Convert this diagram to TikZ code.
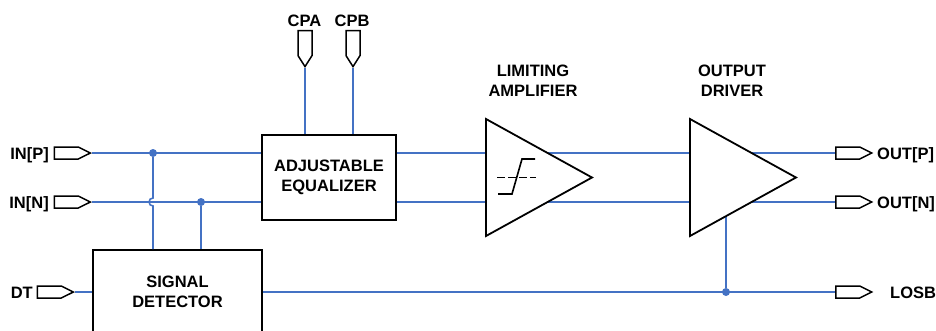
\documentclass[tikz,border=0pt]{standalone}
\usepackage{fontspec}
\setmainfont{Liberation Sans}
\usetikzlibrary{shapes.symbols}
\definecolor{wireblue}{RGB}{68,114,196}
\tikzset{
  block/.style={draw=black,line width=1.8pt,fill=white,align=center,inner sep=0pt},
  port/.style={signal,draw=black,line width=1.5pt,fill=white,inner sep=0pt,minimum width=36pt,minimum height=12pt,signal to=east,signal pointer angle=53},
  vport/.style={port,signal to=south,minimum width=14pt,minimum height=25pt,signal pointer angle=65},
  wire/.style={draw=wireblue,line width=1.6pt},
  joint/.style={circle,fill=wireblue,inner sep=0pt,minimum size=8pt},
  amp/.style={draw=black,line width=1.8pt,fill=white,line join=miter},
  lbl/.style={inner sep=0pt,align=center}
}
\begin{document}
\begin{tikzpicture}[x=1pt,y=-1pt,font=\fontsize{16.5}{20}\selectfont\bfseries]
\useasboundingbox (0,0) rectangle (936,330);

\node[block,minimum width=134pt,minimum height=85pt] (EQ) at (329,177.5) {ADJUSTABLE\\EQUALIZER};
\node[block,minimum width=169pt,minimum height=84pt] (SD) at (177.5,292) {SIGNAL\\DETECTOR};

\node[port,anchor=east] (INP) at (92,153) {};
\node[port,anchor=east] (INN) at (92,202) {};
\node[port,anchor=east] (DT) at (75,292) {};
\node[port,anchor=west] (OUTP) at (835,153) {};
\node[port,anchor=west] (OUTN) at (835,202) {};
\node[port,anchor=west] (LOSB) at (835,292) {};
\node[vport,anchor=south] (CPA) at (305,68) {};
\node[vport,anchor=south] (CPB) at (353,68) {};

\node[lbl,anchor=base east] at (49,159) {IN[P]};
\node[lbl,anchor=base east] at (49,208) {IN[N]};
\node[lbl,anchor=base east] at (33,298) {DT};
\node[lbl,anchor=base west] at (877,159) {OUT[P]};
\node[lbl,anchor=base west] at (877,208) {OUT[N]};
\node[lbl,anchor=base west] at (890,298) {LOSB};
\node[lbl,anchor=base] at (304.5,26) {CPA};
\node[lbl,anchor=base] at (352,26) {CPB};
\node[lbl] (LAtxt) at (533,80.5) {LIMITING\\AMPLIFIER};
\node[lbl] (ODtxt) at (732,80.5) {OUTPUT\\DRIVER};

\coordinate (LAtop) at (486,119);
\coordinate (LAbot) at (486,236);
\coordinate (LAtip) at (592,177.5);
\coordinate (ODtop) at (690,119);
\coordinate (ODbot) at (690,236);
\coordinate (ODtip) at (796,177.5);
\coordinate (LAoutP) at (548,153);
\coordinate (LAoutN) at (548,202);
\coordinate (ODoutP) at (752,153);
\coordinate (ODoutN) at (752,202);
\coordinate (ODlos) at (726,216);

\node[joint] (JP) at (153,153) {};
\node[joint] (JN) at (201,202) {};
\node[joint] (JL) at (726,292) {};

\draw[wire] (INP.east) -- (INP -| EQ.west);
\draw[wire] (INN.east) -- (INN -| EQ.west);
\draw[wire] (JP) -- (153,198) arc[start angle=-90,end angle=-270,radius=4] -- (JP |- SD.north);
\draw[wire] (JN) -- (JN |- SD.north);
\draw[wire] (CPA.south) -- (CPA.south |- EQ.north);
\draw[wire] (CPB.south) -- (CPB.south |- EQ.north);
\draw[wire] (EQ.east |- INP) -- (LAtop |- INP);
\draw[wire] (EQ.east |- INN) -- (LAtop |- INN);
\draw[wire] (LAoutP) -- (ODtop |- LAoutP);
\draw[wire] (LAoutN) -- (ODtop |- LAoutN);
\draw[wire] (ODoutP) -- (OUTP.west);
\draw[wire] (ODoutN) -- (OUTN.west);
\draw[wire] (DT.east) -- (SD.west);
\draw[wire] (SD.east) -- (LOSB.west);
\draw[wire] (ODlos) -- (JL);

\draw[amp] (LAtop) -- (LAtip) -- (LAbot) -- cycle;
\draw[amp] (ODtop) -- (ODtip) -- (ODbot) -- cycle;
\draw[line width=1.6pt,dash pattern=on 8pt off 3pt] (497,177.5) -- (536,177.5);
\draw[line width=1.6pt] (498,194) -- (512,194) -- (522,159) -- (535,159);
\end{tikzpicture}
\end{document}
